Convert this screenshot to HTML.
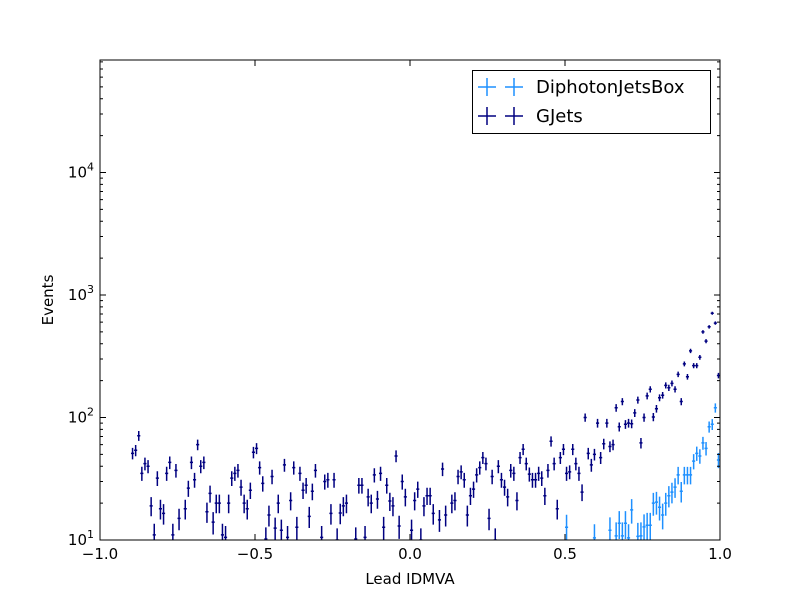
<!DOCTYPE html>
<html><head><meta charset="utf-8"><style>
body{margin:0;background:#fff;}
svg text{font-family:"DejaVu Sans","Liberation Sans",sans-serif;}
</style></head><body>
<svg id="c" width="800" height="600" xmlns="http://www.w3.org/2000/svg">
<rect width="800" height="600" fill="#fff"/>
</svg>
<script>
const gjetsStartX = -0.895;
const binWidth = 0.01;
const gjetsValues = [51,54,71,35,42,40,19,11,32,18,16.5,35,43,11,37,15,8,18,26.5,43,31,60,40,43,17,24,14,20,20,11,10.5,20,32,35,37,27,20,18,25.5,52,56,39,29,10.2,16,33,12.5,20,12,41,10.5,21,39,12.7,35,25.5,28,15.6,25,37,
8,10.5,30,31,16.5,31,10,16.6,19,20,9,8,10.2,28,28,10.5,22.5,20,34,21.6,35,12.7,28,20.8,19,48.5,13,30,22.5,8,12,21,26,10,19,23,23,16.5,8,14.6,38,16,8,20,21,33,36,31,16,23,26,34,39,47,42,15,33,10,40,31,27,22.5,
37,35,21,47,55,42,34.5,31,31,35,32,23,37,64,42,18,47,55,35,36,55,42,35,24.6,100,51,41,50,90,47,61,90,58,60,120,84,135,88,90,89,109,139,62,100,150,170,101,118,145,152,183,175,190,170,225,135,274,215,350,265,265,310,500,420,550,710,590,220];
const diphotonStartX = 0.505;
const diphotonValues = [12.7,8,8,8,8,8,8,8,8,10.4,8,8,8,8,12,8,10.8,13.7,10.8,13.7,10.4,17.6,8,10.7,10.8,12.8,13.2,13.2,20,20.4,18.5,16,20,23,24.6,27,34,25,34,34,34,44,51,48.5,62,56,84,88,120,45];
const xTicks = [-1.0,-0.5,0.0,0.5,1.0];
const xTickLabels = ["\u22121.0","\u22120.5","0.0","0.5","1.0"];
const yDecades = [1,2,3,4];

const NS="http://www.w3.org/2000/svg";
const svg=document.getElementById('c');
const L=100,R=720,T=60,B=540;
const yMin=1, yMax=1+480/122.5;
function X(v){return L+(v+1)/2*(R-L);}
function Y(v){const lv=Math.log10(Math.max(v,1e-3));return B-(lv-yMin)/(yMax-yMin)*(B-T);}
function el(tag,attrs,parent){const e=document.createElementNS(NS,tag);for(const k in attrs)e.setAttribute(k,attrs[k]);(parent||svg).appendChild(e);return e;}

const clip=el('clipPath',{id:'pc'});el('rect',{x:L,y:T,width:R-L,height:B-T},clip);
const plot=el('g',{'clip-path':'url(#pc)'});



function series(start,vals,color,k,name){
  const g=el('g',{},plot);
  
  
  vals.forEach((v,i)=>{
    if(v<10)return;
    const xc=start+i*binWidth;
    const err=Math.sqrt(v*k);
    const p=el('path',{d:`M${X(xc-binWidth/2)},${Y(v)}H${X(xc+binWidth/2)}M${X(xc)},${Y(v+err)}V${Y(Math.max(v-err,1))}`,stroke:color,'stroke-width':1.5,fill:'none'},g);
    
    
  });
}
series(diphotonStartX,diphotonValues,'#1e90ff',0.9,'diphotonjetsbox-series');
series(gjetsStartX,gjetsValues,'#000080',0.6,'gjets-series');

const fr=el('rect',{x:L,y:T,width:R-L,height:B-T,fill:'none',stroke:'#000','stroke-width':1});


xTicks.forEach((t,i)=>{
  const x=X(t);
  el('path',{d:`M${x},${B}v-6M${x},${T}v6`,stroke:'#000'});
  const tx=el('text',{x:x,y:B+19,'font-size':15,'text-anchor':'middle'});
  tx.textContent=xTickLabels[i];
  
});
for(let d=1;d<=5;d++){
  for(let m=1;m<10;m++){
    const v=m*Math.pow(10,d);const y=Y(v);
    if(y<T-0.5||y>B+0.5)continue;
    const len=m===1?6:3;
    el('path',{d:`M${L},${y}h${len}M${R},${y}h-${len}`,stroke:'#000'});
  }
}
yDecades.forEach(d=>{
  const y=Y(Math.pow(10,d));
  const tx=el('text',{x:94,y:y+5,'font-size':15,'text-anchor':'end'});
  
  tx.textContent='10';
  const s=el('tspan',{dy:-7,'font-size':11},tx);s.textContent=String(d);
});
const xl=el('text',{x:410,y:584,'font-size':15,'text-anchor':'middle'});xl.textContent='Lead IDMVA';

const yl=el('text',{x:53,y:300,'font-size':15,'text-anchor':'middle',transform:'rotate(-90 53 300)'});yl.textContent='Events';


const lg=el('g',{});

el('rect',{x:472.5,y:70.5,width:238,height:63,fill:'#fff',stroke:'#000'},lg);
[['DiphotonJetsBox','#1e90ff',87],['GJets','#000080',116]].forEach(([n,c,y])=>{
  const e=el('g',{},lg);
  
  [487,514].forEach(x=>el('path',{d:`M${x-9},${y}h18M${x},${y-9}v18`,stroke:c,'stroke-width':1.5},e));
  const t=el('text',{x:536,y:y+6,'font-size':18},e);t.textContent=n;
});
</script>
</body></html>
